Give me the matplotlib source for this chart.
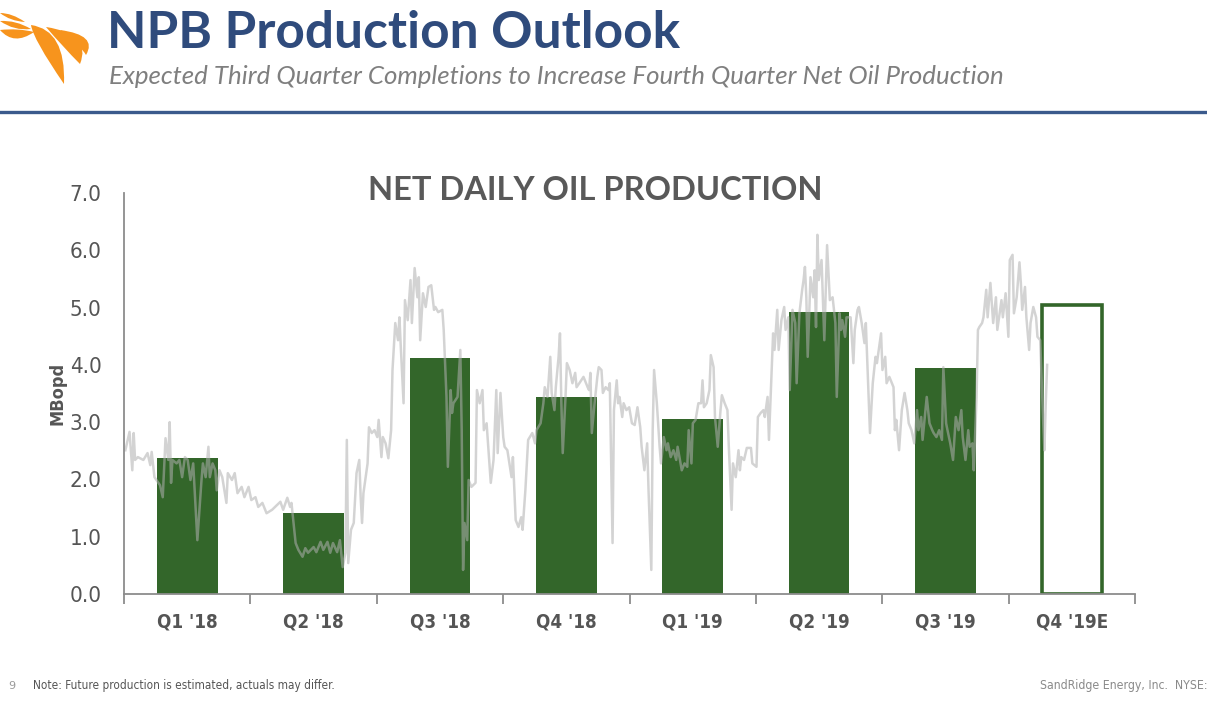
import numpy as np
import matplotlib
matplotlib.use("Agg")
import matplotlib.pyplot as plt
from matplotlib.path import Path
from matplotlib.patches import PathPatch

# quarterly averages (MBopd)
quarters = ["Q1 '18", "Q2 '18", "Q3 '18", "Q4 '18", "Q1 '19", "Q2 '19", "Q3 '19", "Q4 '19E"]
quarter_avg = [2.37, 1.41, 4.12, 3.44, 3.05, 4.93, 3.95, 5.04]
estimated = [False, False, False, False, False, False, False, True]

# daily net oil production, day 0 = 1 Jan 2018
daily_day = [
    1, 4, 6, 7, 8, 10, 14, 17, 19, 20, 22, 26, 28, 30, 32, 33, 34, 35, 38, 40,
    42, 44, 46, 48, 50, 53, 56, 57, 59, 61, 62, 64, 66, 67, 69, 71, 74, 75, 78, 80,
    82, 85, 87, 90, 92, 95, 97, 100, 103, 107,
    113, 115, 118, 120, 121, 124, 126, 129, 131, 133, 137, 139, 142, 144, 147, 149,
    151, 154, 156, 158, 160, 161, 162, 164, 166, 168, 170, 171, 172, 173, 176, 177,
    179, 181, 183, 184, 186, 187, 189, 191, 193, 194, 196, 198, 199, 200, 202, 203,
    205, 207, 208, 210, 212, 213, 214, 216, 218, 220, 222, 224,
    225, 227, 230, 231, 233, 234, 236, 237, 238, 241, 243, 244, 245, 246, 248, 249,
    251, 254, 255, 257, 259, 260, 262, 263, 265, 267, 269, 270, 272, 274, 275, 277,
    280, 281, 283, 285, 287, 288, 290, 292, 295, 297, 298, 301, 303, 304, 306, 308,
    309, 311, 312, 314, 315, 316, 317, 319, 320, 322, 324, 326, 327, 329, 332, 335,
    336,
    337, 338, 340, 342, 343, 345, 346, 348, 350, 351, 353, 354, 356, 357, 358, 360,
    361, 363, 365, 367, 369, 371, 373, 374, 376, 378, 379, 381, 382, 383, 385, 387,
    388, 390, 392, 393, 395, 397, 399, 400, 403, 405, 407, 408, 410, 411, 413, 415,
    417, 418, 419, 421, 423, 424, 426, 427, 429, 431, 432, 434, 436, 437, 439, 440,
    442, 444, 445, 446, 448,
    450, 453, 454, 457, 458, 460, 462, 463, 465, 466, 468, 469, 470, 472, 473, 475,
    477, 478, 480, 481, 483, 485, 486, 488, 490, 491, 492, 493, 494, 496, 497, 498,
    499, 500, 501, 502, 504, 505, 506, 508, 509, 510, 512, 514, 515, 517, 518, 519,
    521, 522, 525, 527, 528, 530, 531, 533, 535, 536, 538, 539, 541, 543, 544, 545,
    547, 548, 550, 551, 553, 556, 557, 558, 560,
    562, 564, 566, 567, 569, 571, 573, 574, 576, 577, 580, 582, 584, 585, 587, 589,
    591, 592, 594, 595, 597, 599, 601, 603, 605, 606, 608, 610, 611, 613, 614, 616,
    617, 618, 620, 621, 623, 624, 626, 628, 630, 631, 634, 635, 637, 639, 640, 642,
    643, 645, 647, 648, 649, 651, 652, 654, 655, 657, 659, 660, 662, 664, 665, 666,
    667,
]
daily_mbopd = [
    2.51, 2.83, 2.16, 2.81, 2.34, 2.39, 2.34, 2.46, 2.25, 2.48, 2.04, 1.90, 1.69, 2.72, 2.34, 3.00, 1.94, 2.34, 2.28, 2.34,
    2.04, 2.39, 2.34, 1.99, 2.28, 0.94, 1.99, 2.28, 2.04, 2.57, 2.04, 2.28, 2.16, 1.81, 2.16, 2.04, 1.59, 2.11, 1.99, 2.11,
    1.76, 1.87, 1.69, 1.87, 1.64, 1.69, 1.52, 1.59, 1.41, 1.47,
    1.61, 1.47, 1.68, 1.52, 1.59, 0.89, 0.77, 0.65, 0.80, 0.72, 0.82, 0.73, 0.91, 0.77, 0.91, 0.72,
    0.89, 0.73, 0.94, 0.47, 0.72, 2.69, 0.54, 1.12, 1.24, 2.11, 2.34, 1.69, 1.24, 1.76, 2.28, 2.91,
    2.81, 2.86, 2.74, 3.04, 2.39, 2.74, 2.63, 2.37, 2.86, 3.91, 4.73, 4.43, 4.83, 4.31, 3.33, 5.13,
    4.78, 5.48, 4.73, 5.69, 5.18, 5.53, 4.43, 5.25, 5.01, 5.36, 5.39, 4.96,
    5.01, 4.92, 4.96, 4.61, 3.44, 2.22, 3.56, 3.16, 3.33, 3.44, 4.26, 2.86, 0.42, 1.24, 0.94, 1.99,
    1.87, 1.94, 3.56, 3.33, 3.56, 2.86, 2.98, 2.63, 1.94, 2.34, 3.56, 2.46, 3.51, 2.74, 2.57, 2.51,
    2.04, 2.39, 1.29, 1.17, 1.34, 1.12, 1.81, 2.69, 2.81, 2.63, 2.86, 2.98, 3.33, 3.61, 3.44, 4.14,
    3.51, 3.21, 3.61, 4.14, 4.55, 3.33, 2.46, 3.44, 4.03, 3.91, 3.68, 3.86, 3.61, 3.68, 3.79, 3.61,
    3.56,
    3.86, 2.81, 3.33, 3.79, 3.96, 3.91, 3.51, 3.61, 3.56, 3.68, 0.89, 3.21, 3.73, 3.33, 3.44, 3.09,
    3.33, 3.21, 3.26, 2.98, 2.95, 3.26, 2.91, 2.57, 2.16, 2.63, 1.81, 0.42, 2.86, 3.91, 3.33, 2.57,
    2.28, 2.74, 2.51, 2.63, 2.39, 2.51, 2.34, 2.57, 2.16, 2.28, 2.22, 2.86, 2.28, 2.98, 3.04, 3.33,
    3.33, 3.73, 3.26, 3.33, 3.56, 4.17, 3.96, 3.09, 2.57, 3.21, 3.47, 3.33, 3.21, 2.57, 1.47, 2.28,
    2.04, 2.51, 2.16, 2.39, 2.34,
    2.55, 2.55, 2.28, 2.22, 3.09, 3.16, 3.21, 3.09, 3.44, 2.69, 3.91, 4.55, 4.26, 4.96, 4.26, 4.78,
    5.01, 4.61, 4.83, 3.56, 4.96, 4.73, 3.68, 4.90, 5.31, 5.48, 5.71, 5.18, 4.14, 5.53, 5.36, 5.18,
    5.65, 4.66, 6.27, 5.48, 5.83, 5.13, 4.43, 6.09, 5.60, 5.13, 5.18, 4.73, 3.44, 4.90, 4.61, 4.78,
    4.49, 4.83, 4.83, 4.03, 4.61, 4.96, 5.01, 4.73, 4.38, 4.73, 3.44, 2.81, 3.68, 4.14, 4.03, 4.20,
    4.55, 3.91, 4.14, 3.68, 3.79, 3.61, 2.86, 3.04, 2.51,
    3.21, 3.51, 3.21, 2.98, 2.86, 2.63, 3.21, 2.86, 3.09, 2.69, 3.44, 2.98, 2.86, 2.81, 2.74, 2.86,
    2.69, 3.96, 2.98, 2.86, 2.63, 2.34, 3.09, 2.86, 3.21, 2.74, 2.34, 2.86, 2.57, 2.63, 2.16, 3.44,
    4.61, 4.66, 4.73, 4.83, 5.31, 4.83, 5.43, 4.73, 5.18, 4.61, 5.13, 4.83, 5.25, 4.49, 5.83, 5.92,
    4.90, 5.18, 5.79, 5.43, 4.96, 5.36, 4.83, 4.26, 4.73, 5.01, 4.83, 4.49, 4.43, 3.09, 2.51, 3.33,
    4.00,
]
yticks = [0, 1, 2, 3, 4, 5, 6, 7]

GREEN = "#33662a"
ORANGE = "#f7941d"
GREY = "#555555"
COND = dict(family="DejaVu Sans", fontstretch="condensed")

fig = plt.figure(figsize=(12.07, 7.04), dpi=100)
W, H = 1207, 704

# decoration layer in pixel coords
deco = fig.add_axes([0, 0, 1, 1])
deco.set_xlim(0, W)
deco.set_ylim(H, 0)
deco.axis("off")
deco.plot([0, W], [111.5, 111.5], color="#3b5a8c", lw=2.4)


def crescent(start, end, c_out, c_in):
    verts = [start, c_out, end, c_in, start, start]
    codes = [Path.MOVETO, Path.CURVE3, Path.CURVE3, Path.CURVE3, Path.CURVE3, Path.CLOSEPOLY]
    return PathPatch(Path(verts, codes), facecolor=ORANGE, edgecolor="none")


# swoosh logo
deco.add_patch(crescent((31, 25), (64, 84), (66, 30), (33, 39)))
deco.add_patch(crescent((46, 27), (80, 64), (92, 34), (63, 47)))
deco.add_patch(crescent((60, 30), (86, 55), (98, 35), (81, 46)))
deco.add_patch(crescent((0, 13), (25, 22), (12, 13), (10, 21)))
deco.add_patch(crescent((0, 21), (31, 29), (16, 20), (14, 31)))
deco.add_patch(crescent((0, 30), (34, 32), (18, 28), (14, 46)))

fig.text(107 / W, 1 - 34 / H, "NPB Production Outlook", fontsize=37, color="#2f4b7c",
         family="Lato", fontweight="bold", va="center", ha="left")
fig.text(109 / W, 1 - 76 / H,
         "Expected Third Quarter Completions to Increase Fourth Quarter Net Oil Production",
         fontsize=18.6, color="#7f7f7f", family="Lato", style="italic",
         va="center", ha="left")

ax = fig.add_axes([124 / W, 110 / H, 1011 / W, 401 / H])
xc = np.arange(len(quarters)) + 0.5
for x, v, est in zip(xc, quarter_avg, estimated):
    if est:
        ax.bar(x, v, width=0.47, facecolor="white", edgecolor=GREEN, linewidth=2.6, zorder=2)
    else:
        ax.bar(x, v, width=0.48, color=GREEN, zorder=2)

ax.plot(np.array(daily_day) / 91.31, daily_mbopd, color="#b0b0b0", alpha=0.55, lw=1.8, zorder=3)

ax.set_xlim(0, 8)
ax.set_ylim(0, 7)
for s in ["top", "right"]:
    ax.spines[s].set_visible(False)
for s in ["left", "bottom"]:
    ax.spines[s].set_color("#8c8c8c")
    ax.spines[s].set_linewidth(1.3)
    ax.spines[s].set_zorder(4)

ax.set_xticks(np.arange(0, 9))
ax.set_xticklabels([])
ax.set_xticks(xc, minor=True)
ax.set_xticklabels(quarters, minor=True, fontweight="bold", fontsize=13.5, color=GREY, **COND)
ax.tick_params(axis="x", which="major", length=7, width=1.3, color="#8c8c8c")
ax.tick_params(axis="x", which="minor", length=0, pad=13)

ax.set_yticks(yticks)
ax.set_yticklabels([f"{v:.1f}" for v in yticks], fontsize=16, color=GREY, **COND)
ax.tick_params(axis="y", length=0, pad=16)

fig.text(58 / W, 1 - 393 / H, "MBopd", rotation=90, fontweight="bold",
         fontsize=13, color=GREY, va="center", ha="center", **COND)
fig.text(595 / W, 1 - 190 / H, "NET DAILY OIL PRODUCTION", fontsize=23.5, fontweight="bold",
         family="Lato", color="#595959", va="center", ha="center")

fig.text(8 / W, 1 - 686 / H, "9", fontsize=8, color="#9a9a9a", va="center", ha="left")
fig.text(33 / W, 1 - 686 / H, "Note: Future production is estimated, actuals may differ.",
         fontsize=8.5, color=GREY, va="center", ha="left", **COND)
fig.text(1207 / W, 1 - 686 / H, "SandRidge Energy, Inc.  NYSE:", fontsize=8.8, color="#8a8a8a",
         va="center", ha="right", **COND)

fig.savefig("out.png", dpi=100)
